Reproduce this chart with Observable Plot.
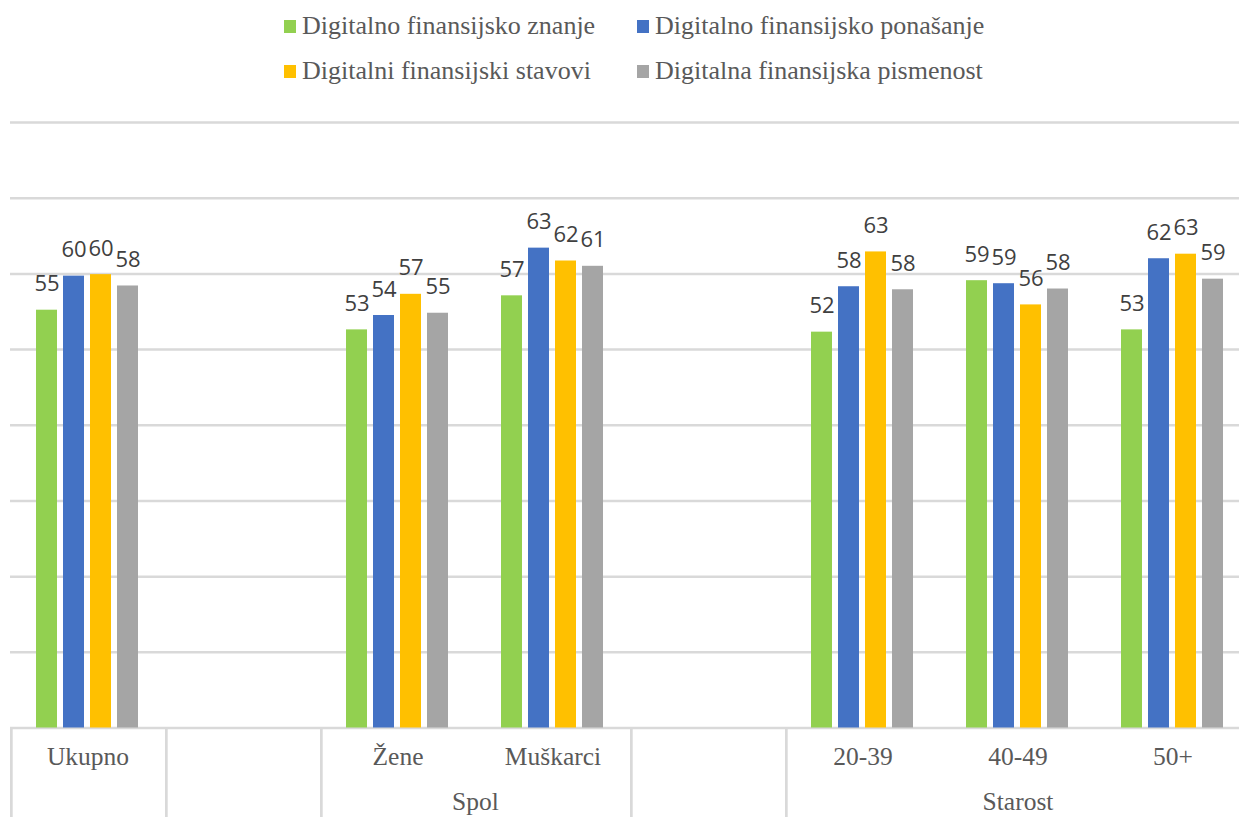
<!DOCTYPE html>
<html>
<head>
<meta charset="utf-8">
<script src="https://cdn.jsdelivr.net/npm/d3@7"></script>
<script src="https://cdn.jsdelivr.net/npm/@observablehq/plot@0.6"></script>
<style>
  html, body { margin: 0; padding: 0; background: #fff; }
  body { width: 1239px; height: 817px; overflow: hidden; }
  #legend { position: relative; height: 100px; font-family: "Liberation Serif", "Times New Roman", serif; font-size: 26px; color: #595959; }
  .item { position: absolute; display: flex; align-items: center; height: 30px; line-height: 30px; white-space: nowrap; }
  .sw { width: 12px; height: 13px; margin-right: 6px; flex: none; }
  #chart svg { overflow: hidden; }
</style>
</head>
<body>
<div id="legend"></div>
<div id="chart"></div>
<script>
// ---- data ----
const slots = ["Ukupno", "gap1", "Žene", "Muškarci", "gap2", "20-39", "40-49", "50+"];
const slotLabels = ["Ukupno", "", "Žene", "Muškarci", "", "20-39", "40-49", "50+"];
const categories = ["Ukupno", "Žene", "Muškarci", "20-39", "40-49", "50+"];
const series = ["Digitalno finansijsko znanje", "Digitalno finansijsko ponašanje", "Digitalni finansijski stavovi", "Digitalna finansijska pismenost"];
const colors = ["#92D050", "#4472C4", "#FFC000", "#A5A5A5"];

const znanje    = [55.2, 52.6, 57.1, 52.3, 59.1, 52.6];
const ponasanje = [59.7, 54.5, 63.4, 58.3, 58.7, 62.0];
const stavovi   = [59.9, 57.3, 61.7, 62.9, 55.9, 62.6];
const pismenost = [58.4, 54.8, 61.0, 57.9, 58.0, 59.3];

const znanjeLbl    = [55, 53, 57, 52, 59, 53];
const ponasanjeLbl = [60, 54, 63, 58, 59, 62];
const stavoviLbl   = [60, 57, 62, 63, 56, 63];
const pismenostLbl = [58, 55, 61, 58, 58, 59];

const gridTicks = [0, 10, 20, 30, 40, 50, 60, 70, 80];
const tableEdges = ["Ukupno", "gap1", "Žene", "gap2", "20-39"];
const groupLabels = [
  {slot: "Žene", label: "Spol", anchor: "bottom-right"},
  {slot: "40-49", label: "Starost", anchor: "bottom"}
];

// ---- table for the library ----
const valueSets = [znanje, ponasanje, stavovi, pismenost];
const labelSets = [znanjeLbl, ponasanjeLbl, stavoviLbl, pismenostLbl];
const data = [];
categories.forEach((c, i) => series.forEach((s, j) => data.push({slot: c, series: s, value: valueSets[j][i], label: labelSets[j][i]})));
const slotTable = slots.map((s, i) => ({slot: s, label: slotLabels[i]}));

// ---- legend ----
const legend = document.getElementById("legend");
const legendPos = [[284, 11], [637, 11], [284, 56], [637, 56]];
series.forEach((name, k) => {
  const it = document.createElement("div");
  it.className = "item";
  it.style.left = legendPos[k][0] + "px";
  it.style.top = legendPos[k][1] + "px";
  const sw = document.createElement("span");
  sw.className = "sw";
  sw.style.background = colors[k];
  const tx = document.createElement("span");
  tx.textContent = name;
  it.appendChild(sw); it.appendChild(tx);
  legend.appendChild(it);
});

// ---- chart ----
const W = 1239, H = 717, mL = 10, mR = -11;
const facetW = (W - mL - mR) / slots.length;
const gridColor = "#d9d9d9";
const serif = "Liberation Serif, Times New Roman, serif";

const chart = Plot.plot({
  width: W,
  height: H,
  marginTop: 22,
  marginBottom: 89.5,
  marginLeft: mL,
  marginRight: mR,
  fx: {domain: slots, paddingInner: 0, paddingOuter: 0, axis: null, label: null},
  x: {domain: series, paddingInner: 0.214, paddingOuter: 0.875, axis: null, label: null},
  y: {domain: [0, 80], axis: null, label: null},
  color: {domain: series, range: colors},
  marks: [
    Plot.ruleY(gridTicks, {stroke: gridColor, strokeWidth: 2.5}),
    Plot.rect(tableEdges, {fx: d => d, y1: 0, y2: -13, fill: gridColor, insetRight: facetW - 2.7}),
    Plot.barY(data, {fx: "slot", x: "series", y: "value", fill: "series"}),
    Plot.text(data, {fx: "slot", x: "series", y: "value", text: "label", dy: -26,
      fontSize: 22, fontFamily: "Open Sans, Lato, sans-serif", fill: "#404040"}),
    Plot.text(slotTable, {fx: "slot", text: "label", frameAnchor: "bottom", textAnchor: "middle", dy: 36.5,
      fontSize: 25.5, fontFamily: serif, fill: "#595959"}),
    ...groupLabels.map(g => Plot.text([g], {fx: "slot", text: "label", frameAnchor: g.anchor, textAnchor: "middle", dy: 81.5,
      fontSize: 25.5, fontFamily: serif, fill: "#595959"}))
  ]
});
document.getElementById("chart").appendChild(chart);
</script>
</body>
</html>
